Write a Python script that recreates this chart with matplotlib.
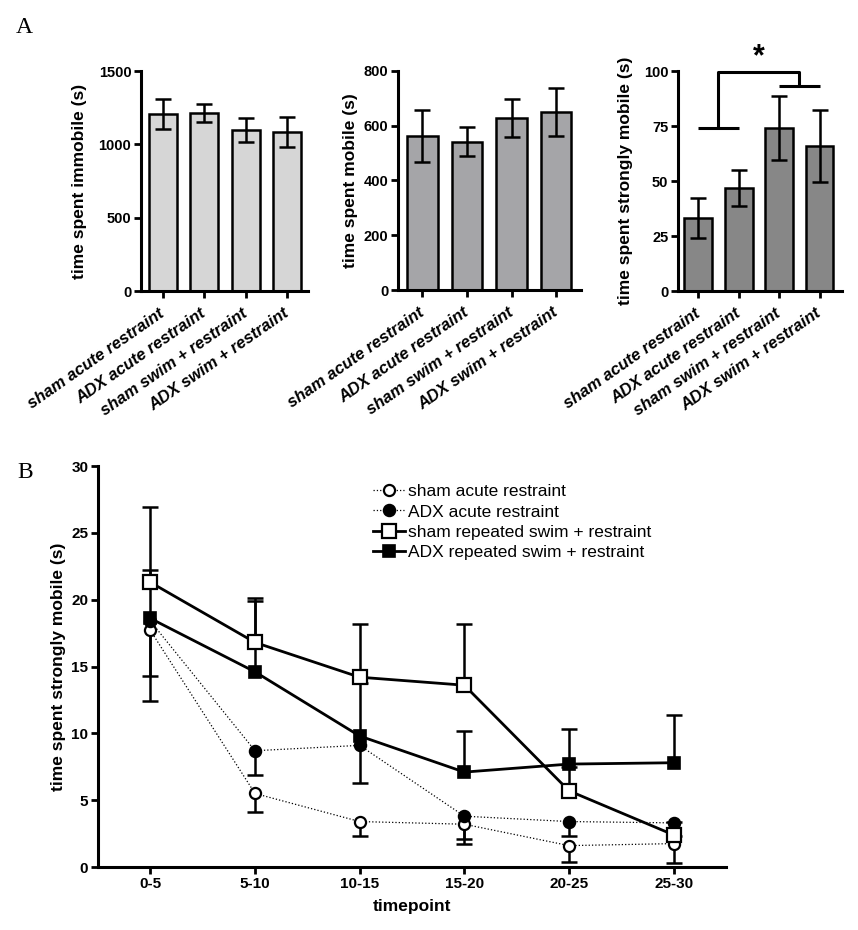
import matplotlib
matplotlib.use('Agg')
import matplotlib.pyplot as plt
import numpy as np

plt.rcParams['font.family'] = ['Liberation Sans', 'DejaVu Sans']

# ---------------- data ----------------
groups = ['sham acute restraint', 'ADX acute restraint',
          'sham swim + restraint', 'ADX swim + restraint']
immobile_mean = [1207, 1214, 1098, 1084]
immobile_sem = [102, 62, 82, 102]
mobile_mean = [563, 541, 628, 650]
mobile_sem = [95, 53, 68, 87]
strong_mean = [33.2, 46.8, 74.1, 65.9]
strong_sem = [9.3, 8.2, 14.5, 16.2]

timepoints = ['0-5', '5-10', '10-15', '15-20', '20-25', '25-30']
sham_acute = [17.7, 5.5, 3.4, 3.2, 1.6, 1.75]
sham_acute_err = [5.3, 1.4, 1.1, 1.5, 1.2, 1.45]
adx_acute = [18.4, 8.7, 9.1, 3.8, 3.4, 3.3]
adx_acute_err = [4.1, 1.8, 2.8, 1.7, 1.1, 1.0]
sham_rep = [21.3, 16.8, 14.2, 13.6, 5.7, 2.4]
sham_rep_err = [5.6, 3.3, 4.0, 4.6, 1.8, 1.0]
adx_rep = [18.6, 14.6, 9.8, 7.1, 7.7, 7.8]
adx_rep_err = [3.6, 5.3, 4.0, 3.1, 2.6, 3.6]

series_labels = ['sham acute restraint', 'ADX acute restraint',
                 'sham repeated swim + restraint', 'ADX repeated swim + restraint']

W, H = 858, 930
fig = plt.figure(figsize=(W / 100, H / 100), dpi=100)


def px_axes(l, t, r, b):
    return fig.add_axes([l / W, 1 - b / H, (r - l) / W, (b - t) / H])


def style(ax, tsize=10.5):
    for s in ['top', 'right']:
        ax.spines[s].set_visible(False)
    for s in ['left', 'bottom']:
        ax.spines[s].set_linewidth(2.2)
    ax.tick_params(direction='out', length=5, width=2, labelsize=tsize, pad=2)


def bold_yticks(ax):
    for lab in ax.get_yticklabels():
        lab.set_fontweight('bold')


def bar_panel(ax, mean, sem, color, yticks, ylabel, xlim, lpad):
    style(ax)
    ax.tick_params(axis='x', pad=10)
    x = np.arange(len(mean))
    ax.bar(x, mean, width=0.68, color=color, edgecolor='black', linewidth=1.8, zorder=2)
    ax.errorbar(x, mean, yerr=sem, fmt='none', ecolor='black', elinewidth=1.8,
                capsize=5.5, capthick=1.8, zorder=3)
    ax.set_xlim(*xlim)
    ax.set_ylim(yticks[0], yticks[-1])
    ax.set_yticks(yticks)
    bold_yticks(ax)
    ax.set_xticks(x)
    ax.set_xticklabels(groups, rotation=35, ha='right', va='center',
                       rotation_mode='anchor', fontsize=12,
                       fontweight='bold', fontstyle='italic')
    ax.set_ylabel(ylabel, fontsize=12.5, fontweight='bold', labelpad=lpad)


ax1 = px_axes(141, 71, 308, 291)
bar_panel(ax1, immobile_mean, immobile_sem, '#d6d6d6', [0, 500, 1000, 1500],
          'time spent immobile (s)', (-0.53, 3.51), 8)

ax2 = px_axes(398, 71, 581, 290)
bar_panel(ax2, mobile_mean, mobile_sem, '#a5a5a8', [0, 200, 400, 600, 800],
          'time spent mobile (s)', (-0.55, 3.56), 4)

ax3 = px_axes(678, 71, 842, 291)
bar_panel(ax3, strong_mean, strong_sem, '#878787', [0, 25, 50, 75, 100],
          'time spent strongly mobile (s)', (-0.5, 3.55), 8)

# significance bracket
bk = dict(color='black', lw=2.2, clip_on=False, solid_capstyle='butt')
ax3.plot([0, 1], [74, 74], **bk)
ax3.plot([0.5, 0.5, 2.5, 2.5], [74, 99.5, 99.5, 93.2], **bk)
ax3.plot([2, 3], [93.2, 93.2], **bk)
ax3.text(1.5, 99.4, '*', ha='center', va='bottom', fontsize=22, fontweight='bold')

# ---------------- panel B ----------------
axB = px_axes(98, 466, 726, 867)
style(axB, tsize=11)
x = np.arange(len(timepoints))
zeros = np.zeros(len(x))


def one_sided(ax, y, err, lower):
    yerr = [err, zeros] if lower else [zeros, err]
    e = ax.errorbar(x, y, yerr=yerr, fmt='none', ecolor='black', elinewidth=1.8,
                    capsize=5.5, capthick=1.8, zorder=2)
    caps = e[1]
    caps[1 if lower else 0].set_visible(False)


one_sided(axB, sham_acute, sham_acute_err, True)
one_sided(axB, adx_acute, adx_acute_err, True)
one_sided(axB, sham_rep, sham_rep_err, False)
one_sided(axB, adx_rep, adx_rep_err, False)

h1, = axB.plot(x, sham_acute, linestyle=':', lw=0.9, color='black', marker='o',
               ms=8, mfc='white', mec='black', mew=1.6, zorder=3, label=series_labels[0])
h2, = axB.plot(x, adx_acute, linestyle=':', lw=0.9, color='black', marker='o',
               ms=8.5, mfc='black', mec='black', mew=1.2, zorder=3, label=series_labels[1])
h3, = axB.plot(x, sham_rep, linestyle='-', lw=2.0, color='black', marker='s',
               ms=9.5, mfc='white', mec='black', mew=1.6, zorder=4, label=series_labels[2])
h4, = axB.plot(x, adx_rep, linestyle='-', lw=2.0, color='black', marker='s',
               ms=9, mfc='black', mec='black', mew=1.2, zorder=4, label=series_labels[3])

axB.set_xlim(-0.5, 5.5)
axB.set_ylim(0, 30)
axB.set_yticks(np.arange(0, 31, 5))
bold_yticks(axB)
axB.set_xticks(x)
axB.set_xticklabels(timepoints, fontsize=11, fontweight='bold')
axB.set_xlabel('timepoint', fontsize=12.5, fontweight='bold', labelpad=6)
axB.set_ylabel('time spent strongly mobile (s)', fontsize=12.5, fontweight='bold', labelpad=4)

fig.legend(handles=[h1, h2, h3, h4], loc='upper left',
           bbox_to_anchor=(373 / W, 1 - 484 / H), frameon=False, fontsize=12.5,
           handlelength=1.85, handletextpad=0.15, labelspacing=0.3,
           borderpad=0, borderaxespad=0, numpoints=1)

# panel letters
fig.text(16 / W, 1 - 33 / H, 'A', fontsize=17, family='Liberation Serif', va='baseline')
fig.text(17 / W, 1 - 478 / H, 'B', fontsize=17, family='Liberation Serif', va='baseline')

fig.savefig('out.png', dpi=100)
